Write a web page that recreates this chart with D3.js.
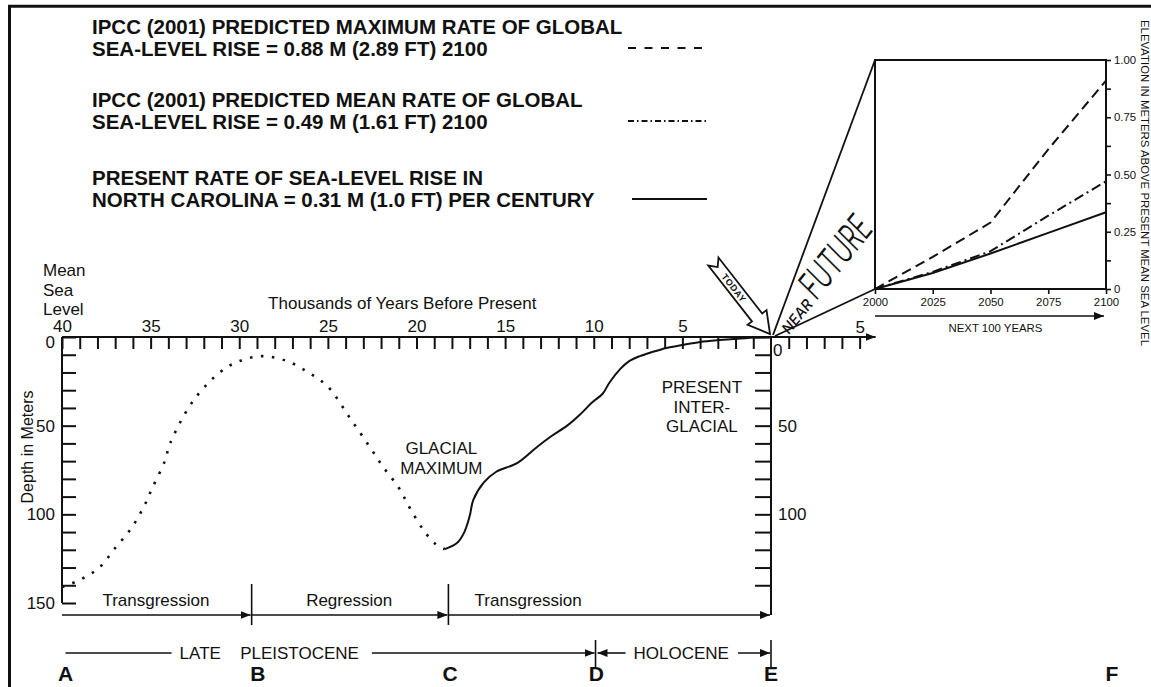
<!DOCTYPE html>
<html>
<head>
<meta charset="utf-8">
<script src="https://cdn.jsdelivr.net/npm/d3@7"></script>
<style>
  body { margin: 0; background: #fff; }
  svg { display: block; font-family: "Liberation Sans", Arial, sans-serif; }
  .axis path.domain { display: none; }
  .axis line { stroke: #111; stroke-width: 2; }
  .axis text { font-size: 17px; fill: #111; }
  .inset-axis line { stroke-width: 1.6; }
  .inset-axis text { font-size: 11.4px; }
</style>
</head>
<body>
<div id="chart"></div>
<script>
// ---- data ----
// dotted (inferred) sea level, thousands of years BP / depth in m
const inferredYears = [40, 39.0, 37.9, 37.0, 36.1, 35.4, 34.9, 34.2, 33.9, 32.6, 31.1, 30.0, 28.7, 27.3, 26.1, 25.0, 23.8, 22.7, 21.9, 21.0, 20.4, 19.6, 18.9, 18.4];
const inferredDepth = [141, 137, 130, 119, 108, 96, 85, 70, 60, 36, 20, 13.6, 10.8, 13.6, 20, 28, 45, 61, 73, 85, 96, 109, 117, 119.6];
// solid (measured) rise since glacial maximum
const riseYears = [18.4, 17.7, 17.3, 17.0, 16.8, 16.2, 15.5, 14.3, 13.2, 12.4, 11.5, 10.8, 10.1, 9.5, 9.1, 8.5, 8.0, 7.4, 6.7, 5.9, 5.0, 4.0, 2.9, 1.7, 0];
const riseDepth = [119.6, 116, 110, 101, 92, 82, 76, 71, 62, 56, 50, 44, 37, 32, 25.5, 18, 13.6, 10.8, 8.5, 6.2, 4.5, 2.8, 1.7, 0.8, 0];

// inset: next 100 years, metres above present mean sea level
const insetYears = [2000, 2025, 2050, 2075, 2100];
const ipccMax = [0, 0.14, 0.29, 0.61, 0.91];
const ipccMean = [0, 0.075, 0.165, 0.32, 0.47];
const ncPresent = [0, 0.07, 0.155, 0.245, 0.335];

const yearLabels = [40, 35, 30, 25, 20, 15, 10, 5];
const depthLabels = [0, 50, 100, 150];
const insetYLabels = [0, 0.25, 0.5, 0.75, 1];

const phaseBounds = [40, 29.3, 18.2, 0];
const phaseNames = ["Transgression", "Regression", "Transgression"];
const phaseLabelYears = [34.7, 23.8, 13.7];
const epochBounds = [9.9, 0];
const letterNames = ["A", "B", "C", "D", "E"];
const letterYears = [39.8, 28.95, 18.1, 9.85, 0];

const legendText = [
  ["IPCC (2001) PREDICTED MAXIMUM RATE OF GLOBAL", "SEA-LEVEL RISE = 0.88 M (2.89 FT) 2100"],
  ["IPCC (2001) PREDICTED MEAN RATE OF GLOBAL", "SEA-LEVEL RISE = 0.49 M (1.61 FT) 2100"],
  ["PRESENT RATE OF SEA-LEVEL RISE IN", "NORTH CAROLINA = 0.31 M (1.0 FT) PER CENTURY"]
];
const seriesDash = ["10 5.5", "10 4 2 4", null];
const legendDash = ["8 8.5", "6 3 1.5 3", null];

// ---- layout ----
const width = 1151, height = 687;
const legendBase = [34, 107, 185];
const phaseY = 615, epochY = 653, letterY = 681;

const svg = d3.select("#chart").append("svg")
  .attr("width", width)
  .attr("height", height);

const defs = svg.append("defs");
defs.append("marker")
  .attr("id", "arrow")
  .attr("viewBox", "0 0 10 8")
  .attr("refX", 10).attr("refY", 4)
  .attr("markerWidth", 10).attr("markerHeight", 8)
  .attr("markerUnits", "userSpaceOnUse")
  .attr("orient", "auto")
  .append("path")
  .attr("d", "M0,0L10,4L0,8Z")
  .attr("fill", "#111");

// page frame (top + left only, as cropped)
svg.append("path")
  .attr("d", `M9.5,${height}V6.2H${width}`)
  .attr("fill", "none")
  .attr("stroke", "#111")
  .attr("stroke-width", 3);

const line = (sel, x1, y1, x2, y2, w = 2) => sel.append("line")
  .attr("x1", x1).attr("y1", y1).attr("x2", x2).attr("y2", y2)
  .attr("stroke", "#111").attr("stroke-width", w);

// ---- main chart ----
const x = d3.scaleLinear().domain([40, 0]).range([62, 771]);
const y = d3.scaleLinear().domain([0, 150]).range([337, 603]);

line(svg, x(40), y(0), x(-5) + 16, y(0)).attr("marker-end", "url(#arrow)");
line(svg, x(40), y(0), x(40), y(150));
line(svg, x(0), y(0), x(0), phaseY);

svg.append("g")
  .attr("class", "axis")
  .attr("transform", `translate(0,${y(0)})`)
  .call(d3.axisTop(x)
    .tickValues(d3.range(1, 41))
    .tickSizeInner(-12).tickSizeOuter(0).tickPadding(5)
    .tickFormat(d => yearLabels.includes(d) ? d : ""));

svg.append("g")
  .attr("class", "axis")
  .attr("transform", `translate(0,${y(0)})`)
  .call(d3.axisTop(x)
    .tickValues([-1, -2, -3, -4, -5])
    .tickSizeInner(-12).tickSizeOuter(0).tickPadding(4)
    .tickFormat(d => d === -5 ? "5" : ""));

const leftAxis = svg.append("g")
  .attr("class", "axis")
  .attr("transform", `translate(${x(40)},0)`)
  .call(d3.axisLeft(y)
    .tickValues(d3.range(0, 151, 10))
    .tickSizeInner(-14).tickSizeOuter(0).tickPadding(7)
    .tickFormat(d => depthLabels.includes(d) ? d : ""));
leftAxis.selectAll("text").filter(d => d === 0).attr("dy", "0.62em");

const rightAxis = svg.append("g")
  .attr("class", "axis")
  .attr("transform", `translate(${x(0)},0)`)
  .call(d3.axisRight(y)
    .tickValues(d3.range(0, 141, 10))
    .tickSizeInner(-16).tickSizeOuter(0).tickPadding(7)
    .tickFormat(d => depthLabels.includes(d) ? d : ""));
rightAxis.selectAll("text").filter(d => d === 0).attr("dy", "1.1em").attr("x", 2);

const label = (txt, px, py, opts = {}) => svg.append("text")
  .attr("x", px).attr("y", py)
  .attr("text-anchor", opts.anchor || "middle")
  .attr("font-size", opts.size || 17)
  .attr("font-weight", opts.weight || "normal")
  .attr("fill", "#111")
  .text(txt);

["Mean", "Sea", "Level"].forEach((t, i) => label(t, 43, 276 + i * 19.5, { anchor: "start" }));
label("Thousands of Years Before Present", x(20.8), 309);
svg.append("text")
  .attr("transform", `translate(33,447) rotate(-90)`)
  .attr("text-anchor", "middle")
  .attr("font-size", 16)
  .attr("fill", "#111")
  .text("Depth in Meters");

["GLACIAL", "MAXIMUM"].forEach((t, i) => label(t, x(18.6), 454 + i * 20));
["PRESENT", "INTER-", "GLACIAL"].forEach((t, i) => label(t, x(3.9), 393 + i * 19.5));

const seaLine = d3.line()
  .x(d => x(d[0]))
  .y(d => y(d[1]))
  .curve(d3.curveCatmullRom.alpha(0.5));

svg.append("path")
  .datum(d3.zip(inferredYears, inferredDepth))
  .attr("d", seaLine)
  .attr("fill", "none")
  .attr("stroke", "#111")
  .attr("stroke-width", 2.6)
  .attr("stroke-dasharray", "2.5 8.5");

svg.append("path")
  .datum(d3.zip(riseYears, riseDepth))
  .attr("d", seaLine)
  .attr("fill", "none")
  .attr("stroke", "#111")
  .attr("stroke-width", 2);

// ---- phases, epochs, letters ----
phaseNames.forEach((name, i) => {
  line(svg, x(phaseBounds[i]), phaseY, x(phaseBounds[i + 1]) - 1, phaseY, 1.6)
    .attr("marker-end", "url(#arrow)");
  label(name, x(phaseLabelYears[i]), phaseY - 9);
});
phaseBounds.slice(1, 3).forEach(b => line(svg, x(b), phaseY - 31, x(b), phaseY + 10, 1.6));

const late = label("LATE", x(32.2), epochY + 6);
const pleist = label("PLEISTOCENE", x(26.6), epochY + 6);
const holo = label("HOLOCENE", (x(epochBounds[0]) + x(epochBounds[1])) / 2 - 2, epochY + 6);
const lb = late.node().getBBox(), pb = pleist.node().getBBox(), hb = holo.node().getBBox();
line(svg, x(39.8), epochY, lb.x - 8, epochY, 1.6);
line(svg, pb.x + pb.width + 13, epochY, x(epochBounds[0]) - 1, epochY, 1.6).attr("marker-end", "url(#arrow)");
line(svg, hb.x - 8, epochY, x(epochBounds[0]) + 2, epochY, 1.6).attr("marker-end", "url(#arrow)");
line(svg, hb.x + hb.width + 9, epochY, x(epochBounds[1]) - 1, epochY, 1.6).attr("marker-end", "url(#arrow)");
epochBounds.forEach(b => line(svg, x(b), epochY - 13, x(b), epochY + 14, 1.6));

letterNames.forEach((l, i) => label(l, x(letterYears[i]), letterY, { size: 21, weight: "bold" }));

// ---- inset: next 100 years ----
const xi = d3.scaleLinear().domain([2000, 2100]).range([875, 1106]);
const yi = d3.scaleLinear().domain([0, 1]).range([289, 60]);

line(svg, x(0) + 2, y(0) - 2, xi(2000), yi(1), 1.8);
line(svg, x(0) + 4, y(0) - 1, xi(2000), yi(0), 1.8);

svg.append("rect")
  .attr("x", xi(2000)).attr("y", yi(1))
  .attr("width", xi(2100) - xi(2000)).attr("height", yi(0) - yi(1))
  .attr("fill", "#fff")
  .attr("stroke", "#111")
  .attr("stroke-width", 2);

svg.append("g")
  .attr("class", "axis inset-axis")
  .attr("transform", `translate(${xi(2100)},0)`)
  .call(d3.axisRight(yi)
    .tickValues(d3.range(0, 1.001, 0.125))
    .tickSizeInner(5).tickSizeOuter(0).tickPadding(3)
    .tickFormat(d => insetYLabels.includes(d) ? (d === 0 ? "0" : d3.format(".2f")(d)) : ""));

svg.append("g")
  .attr("class", "axis inset-axis")
  .attr("transform", `translate(0,${yi(0)})`)
  .call(d3.axisBottom(xi)
    .tickValues(insetYears)
    .tickSizeInner(5).tickSizeOuter(0).tickPadding(4)
    .tickFormat(d3.format("d")));

line(svg, xi(2000), 316, xi(2100) - 2, 316, 1.6).attr("marker-end", "url(#arrow)");
svg.append("text")
  .attr("x", (xi(2000) + xi(2100)) / 2 + 5).attr("y", 332)
  .attr("text-anchor", "middle")
  .attr("font-size", 11.4)
  .attr("fill", "#111")
  .text("NEXT 100 YEARS");

svg.append("text")
  .attr("transform", `translate(1141,20) rotate(90)`)
  .attr("font-size", 11.4)
  .attr("fill", "#111")
  .text("ELEVATION IN METERS ABOVE PRESENT MEAN SEA LEVEL");

const insetLine = d3.line()
  .x(d => xi(d[0]))
  .y(d => yi(d[1]));

[ipccMax, ipccMean, ncPresent].forEach((vals, i) => {
  svg.append("path")
    .datum(d3.zip(insetYears, vals))
    .attr("d", insetLine)
    .attr("fill", "none")
    .attr("stroke", "#111")
    .attr("stroke-width", 2)
    .attr("stroke-dasharray", seriesDash[i]);
});

label("F", xi(2100) + 6, letterY, { size: 21, weight: "bold" });

// ---- TODAY arrow ----
const L = 92, hl = 21, hw = 12, sw = 6.5, notch = 7;
const today = svg.append("g")
  .attr("transform", `translate(${x(0) - 1},${y(0) - 3}) rotate(52)`);
today.append("path")
  .attr("d", d3.line()([[0, 0], [-hl, -hw], [-hl, -sw], [-L, -sw], [-L + notch, 0], [-L, sw], [-hl, sw], [-hl, hw]]) + "Z")
  .attr("fill", "#fff")
  .attr("stroke", "#111")
  .attr("stroke-width", 1.8)
  .attr("stroke-linejoin", "miter");
today.append("text")
  .attr("x", -(L + hl) / 2 - 2).attr("y", 0)
  .attr("dy", "0.36em")
  .attr("text-anchor", "middle")
  .attr("font-size", 9)
  .attr("font-weight", "bold")
  .attr("letter-spacing", 0.6)
  .attr("fill", "#111")
  .text("TODAY");

// ---- NEAR FUTURE (hand lettering) ----
const nf = svg.append("g")
  .attr("transform", `translate(${x(0) + 18},${y(0) - 2}) rotate(-51)`)
  .attr("font-family", "Inter, Lato, 'DejaVu Sans', sans-serif")
  .attr("fill", "#111");
nf.append("text")
  .attr("x", 0).attr("y", 0)
  .attr("font-size", 15)
  .attr("font-weight", 500)
  .attr("font-style", "italic")
  .attr("textLength", 39).attr("lengthAdjust", "spacingAndGlyphs")
  .text("NEAR");
nf.append("text")
  .attr("x", 44).attr("y", 0)
  .attr("font-size", 38)
  .attr("font-weight", 300)
  .attr("font-style", "italic")
  .attr("textLength", 92).attr("lengthAdjust", "spacingAndGlyphs")
  .text("FUTURE");

// ---- legend ----
legendText.forEach((lines, i) => {
  lines.forEach((t, j) => label(t, 92, legendBase[i] + j * 22, { anchor: "start", size: 20.5, weight: "bold" }));
  const sy = legendBase[i] + 22 - 8;
  line(svg, i === 2 ? 632 : 628, sy, 707, sy, 1.8)
    .attr("stroke-dasharray", legendDash[i]);
});
</script>
</body>
</html>
